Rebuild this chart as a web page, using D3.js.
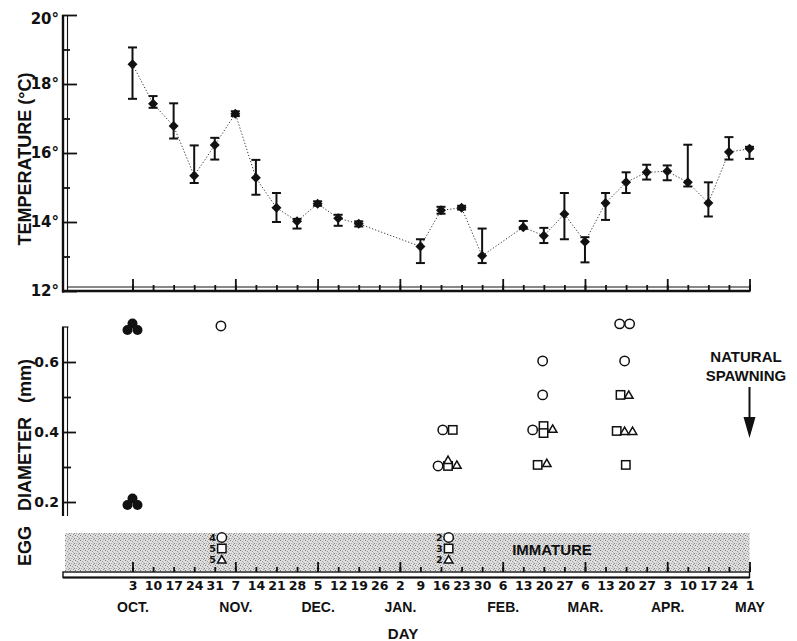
<!DOCTYPE html>
<html>
<head>
<meta charset="utf-8">
<script src="https://cdn.jsdelivr.net/npm/d3@7"></script>
<style>
  html, body { margin: 0; padding: 0; background: #fff; }
  svg { display: block; }
  text { fill: #111; }
</style>
</head>
<body>
<svg id="chart" width="797" height="641"></svg>
<script>
// ---------- DATA ----------
// x values are days since Oct 3
const weekLabels = ["3","10","17","24","31","7","14","21","28","5","12","19","26","2","9","16","23","30","6","13","20","27","6","13","20","27","3","10","17","24","1"];
const monthLabels = ["OCT.","NOV.","DEC.","JAN.","FEB.","MAR.","APR.","MAY"];
const monthStartWeek = [0,5,9,13,18,22,26,30];

const tempDays = [0,7,14,21,28,35,42,49,56,63,70,77,98,105,112,119,133,140,147,154,161,168,175,182,189,196,203,210];
const tempMean = [18.57,17.43,16.78,15.34,16.23,17.14,15.28,14.41,14.02,14.53,14.11,13.95,13.29,14.34,14.41,13.02,13.85,13.60,14.23,13.43,14.55,15.15,15.44,15.47,15.15,14.55,16.03,16.12];
const tempLow  = [17.57,17.31,16.42,15.13,15.81,17.07,14.79,14.00,13.81,14.47,13.89,13.87,12.81,14.24,14.36,12.81,13.80,13.39,13.50,12.83,14.06,14.84,15.23,15.21,15.03,14.16,15.81,15.83];
const tempHigh = [19.06,17.65,17.44,16.22,16.44,17.21,15.80,14.84,14.09,14.60,14.21,14.02,13.50,14.44,14.47,13.81,14.03,13.83,14.84,13.56,14.84,15.44,15.66,15.64,16.24,15.15,16.46,16.18];

const tempTicks = [12,14,16,18,20];
const tempMinorTicks = [13,15,17,19];
const eggTicks = [0.2,0.4,0.6];
const eggMinorTicks = [0.3,0.5];

const eggDays  = [0, 0, 30.1, 105.6,109.0, 104.0,107.4,107.4,110.4, 139.6,139.6, 136.2,139.9,139.9,143.0, 137.9,141.0, 165.8,169.2, 167.5, 166.1,168.9, 164.8,167.5,170.2, 167.9];
const eggDiam  = [0.70,0.20,0.703, 0.406,0.406, 0.303,0.303,0.32,0.306, 0.603,0.506, 0.406,0.417,0.397,0.409, 0.306,0.311, 0.709,0.709, 0.603, 0.506,0.506, 0.403,0.403,0.403, 0.306];
const eggShape = ["cluster","cluster","circle","circle","square","circle","square","triangle","triangle","circle","circle","circle","square","square","triangle","square","triangle","circle","circle","circle","square","triangle","square","triangle","triangle","square"];

const immatureDays = [30.4, 107.6];
const immatureShapes = ["circle","square","triangle"];
const immatureCounts = [[4,5,5],[2,3,2]];

// ---------- SCALES ----------
const svg = d3.select("#chart");
const x = d3.scaleLinear().domain([0,210]).range([132.5,749.5]);
const yT = d3.scaleLinear().domain([12,20]).range([291,15]);
const yE = d3.scaleLinear().domain([0.16,0.70]).range([516,327]);
const immRow = d3.scalePoint().domain(immatureShapes).range([537.5,559.5]);
const weekDays = weekLabels.map((d,i)=>i*7);
const monthDays = monthStartWeek.map(i=>i*7);

const numFont = "'DejaVu Sans', sans-serif";
const wordFont = "'Liberation Sans', Arial, sans-serif";

// ---------- TOP PANEL AXES ----------
svg.append("line").attr("x1",63).attr("x2",63).attr("y1",yT(20)).attr("y2",yT(12)+1.5).attr("stroke","#111").attr("stroke-width",2.4);
svg.append("line").attr("x1",67.5).attr("x2",67.5).attr("y1",yT(20)).attr("y2",yT(12)).attr("stroke","#111").attr("stroke-width",1.1);
svg.append("line").attr("x1",62).attr("x2",x(210)+1).attr("y1",yT(12)).attr("y2",yT(12)).attr("stroke","#111").attr("stroke-width",2.4);
svg.append("line").attr("x1",67).attr("x2",x(210)).attr("y1",yT(12)-4).attr("y2",yT(12)-4).attr("stroke","#111").attr("stroke-width",1);

function styleAxis(g){ g.select(".domain").remove(); g.selectAll(".tick line").attr("stroke","#111").attr("stroke-width",1.8); }

svg.append("g").attr("transform","translate(62,0)")
  .call(d3.axisRight(yT).tickValues(tempTicks).tickSize(15).tickFormat(""))
  .call(styleAxis);
svg.append("g").attr("transform","translate(62,0)")
  .call(d3.axisRight(yT).tickValues(tempMinorTicks).tickSize(8).tickFormat(""))
  .call(styleAxis);
svg.append("g").attr("transform","translate(60,0)")
  .call(d3.axisLeft(yT).tickValues(tempTicks).tickSize(0).tickPadding(1).tickFormat(d=>d+"°"))
  .call(g=>g.select(".domain").remove())
  .call(g=>g.selectAll("text").attr("font-family",numFont).attr("font-weight","bold").attr("font-size",15).attr("fill","#111"))
  .call(g=>g.selectAll(".tick").filter(d=>d===20).select("text").attr("dy","0.55em"));

svg.append("g").attr("transform",`translate(0,${yT(12)})`)
  .call(d3.axisBottom(x).tickValues(weekDays).tickSize(-6).tickFormat(""))
  .call(styleAxis);
svg.append("g").attr("transform",`translate(0,${yT(12)})`)
  .call(d3.axisBottom(x).tickValues(monthDays).tickSize(-12).tickFormat(""))
  .call(styleAxis);

svg.append("text").attr("transform",`translate(31,${(yT(20)+yT(12))/2+6}) rotate(-90)`)
  .attr("text-anchor","middle").attr("font-family",wordFont).attr("font-weight","bold").attr("font-size",18)
  .text("TEMPERATURE (°C)");

// ---------- TEMPERATURE DATA ----------
const tData = tempDays.map((d,i)=>({d, m:tempMean[i], lo:tempLow[i], hi:tempHigh[i]}));
svg.append("path").datum(tData)
  .attr("d", d3.line().x(p=>x(p.d)).y(p=>yT(p.m)))
  .attr("fill","none").attr("stroke","#333").attr("stroke-width",1).attr("stroke-dasharray","1.2,2");

const eb = svg.append("g").selectAll("g").data(tData).join("g");
eb.append("line").attr("x1",p=>x(p.d)).attr("x2",p=>x(p.d)).attr("y1",p=>yT(p.lo)).attr("y2",p=>yT(p.hi)).attr("stroke","#111").attr("stroke-width",2);
eb.append("line").attr("x1",p=>x(p.d)-4.5).attr("x2",p=>x(p.d)+4.5).attr("y1",p=>yT(p.lo)).attr("y2",p=>yT(p.lo)).attr("stroke","#111").attr("stroke-width",2);
eb.append("line").attr("x1",p=>x(p.d)-4.5).attr("x2",p=>x(p.d)+4.5).attr("y1",p=>yT(p.hi)).attr("y2",p=>yT(p.hi)).attr("stroke","#111").attr("stroke-width",2);
eb.append("path").attr("d", d3.symbol(d3.symbolSquare, 50)())
  .attr("transform",p=>`translate(${x(p.d)},${yT(p.m)}) rotate(45)`).attr("fill","#111");

// ---------- EGG PANEL ----------
svg.append("line").attr("x1",63).attr("x2",63).attr("y1",yE(0.70)).attr("y2",yE(0.16)).attr("stroke","#111").attr("stroke-width",2.2);
svg.append("line").attr("x1",67.5).attr("x2",67.5).attr("y1",yE(0.70)).attr("y2",yE(0.16)).attr("stroke","#111").attr("stroke-width",1.1);
svg.append("line").attr("x1",62).attr("x2",68.5).attr("y1",yE(0.70)).attr("y2",yE(0.70)).attr("stroke","#111").attr("stroke-width",1.2);
svg.append("g").attr("transform","translate(62,0)")
  .call(d3.axisRight(yE).tickValues(eggTicks).tickSize(14).tickFormat(""))
  .call(styleAxis);
svg.append("g").attr("transform","translate(62,0)")
  .call(d3.axisRight(yE).tickValues(eggMinorTicks).tickSize(9).tickFormat(""))
  .call(styleAxis);
svg.append("g").attr("transform","translate(60,0)")
  .call(d3.axisLeft(yE).tickValues(eggTicks).tickSize(0).tickPadding(1).tickFormat(d3.format(".1f")))
  .call(g=>g.select(".domain").remove())
  .call(g=>g.selectAll("text").attr("font-family",numFont).attr("font-weight","bold").attr("font-size",14).attr("fill","#111"));

[["EGG",546],["DIAMETER",464],["(mm)",381]].forEach(([t,c])=>{
  svg.append("text").attr("transform",`translate(31,${c}) rotate(-90)`)
    .attr("text-anchor","middle").attr("font-family",wordFont).attr("font-weight","bold").attr("font-size",18).text(t);
});

// immature band
const defs = svg.append("defs");
const pat = defs.append("pattern").attr("id","stipple").attr("patternUnits","userSpaceOnUse").attr("width",5).attr("height",5);
pat.append("rect").attr("width",5).attr("height",5).attr("fill","#dedede");
[[0,0,"#777"],[2,1,"#999"],[4,3,"#888"],[1,3,"#aaa"],[3,4,"#9a9a9a"],[3,2,"#bbb"]].forEach(([a,b,c])=>pat.append("rect").attr("x",a).attr("y",b).attr("width",1).attr("height",1).attr("fill",c));
svg.append("rect").attr("x",65).attr("y",533).attr("width",x(210)-65).attr("height",38).attr("fill","url(#stipple)");

const axY = 575;
svg.append("rect").attr("x",63).attr("y",axY-3).attr("width",x(210)-63).attr("height",5.5).attr("fill","#fff").attr("stroke","#111").attr("stroke-width",1.4);
svg.append("line").attr("x1",63).attr("x2",x(210)).attr("y1",axY+2.5).attr("y2",axY+2.5).attr("stroke","#111").attr("stroke-width",2);

svg.append("g").attr("transform",`translate(0,${axY-3})`)
  .call(d3.axisBottom(x).tickValues(weekDays).tickSize(-5).tickPadding(9).tickFormat((d,i)=>weekLabels[i]))
  .call(styleAxis)
  .call(g=>g.selectAll("text").attr("font-family",numFont).attr("font-weight","bold").attr("font-size",12.5).attr("fill","#111"));
svg.append("g").attr("transform",`translate(0,${axY-3})`)
  .call(d3.axisBottom(x).tickValues(monthDays).tickSize(-10).tickFormat(""))
  .call(styleAxis);
svg.append("g").attr("transform",`translate(0,${axY+27})`)
  .call(d3.axisBottom(x).tickValues(monthDays).tickSize(0).tickPadding(0).tickFormat((d,i)=>monthLabels[i]))
  .call(g=>g.select(".domain").remove())
  .call(g=>g.selectAll("text").attr("font-family",wordFont).attr("font-weight","bold").attr("font-size",14).attr("fill","#111"));

svg.append("text").attr("x",403).attr("y",639).attr("text-anchor","middle")
  .attr("font-family",wordFont).attr("font-weight","bold").attr("font-size",15).text("DAY");

// ---------- EGG MARKERS ----------
function drawShape(g, shape, cx, cy){
  if(shape==="circle"){
    g.append("circle").attr("cx",cx).attr("cy",cy).attr("r",4.7).attr("fill","#fff").attr("stroke","#111").attr("stroke-width",1.5);
  } else if(shape==="square"){
    g.append("rect").attr("x",cx-4.2).attr("y",cy-4.2).attr("width",8.4).attr("height",8.4).attr("fill","#fff").attr("stroke","#111").attr("stroke-width",1.5);
  } else if(shape==="triangle"){
    g.append("path").attr("d",d3.symbol(d3.symbolTriangle2 || d3.symbolTriangle, 52)())
      .attr("transform",`translate(${cx},${cy+1})`).attr("fill","#fff").attr("stroke","#111").attr("stroke-width",1.5);
  } else if(shape==="cluster"){
    [[0,-3.5],[-5,3],[5,3]].forEach(([dx,dy])=>
      g.append("circle").attr("cx",cx+dx).attr("cy",cy+dy).attr("r",5).attr("fill","#111"));
  }
}
const eggG = svg.append("g");
eggDays.forEach((d,i)=>drawShape(eggG, eggShape[i], x(d), yE(eggDiam[i])));

const immG = svg.append("g");
immatureDays.forEach((d,j)=>{
  immatureShapes.forEach((s,k)=>{
    drawShape(immG, s, x(d), immRow(s));
    immG.append("text").attr("x",x(d)-6).attr("y",immRow(s)+3.5).attr("text-anchor","end")
      .attr("font-family",numFont).attr("font-weight","bold").attr("font-size",9.5).text(immatureCounts[j][k]);
  });
});
svg.append("text").attr("x",552).attr("y",555).attr("text-anchor","middle")
  .attr("font-family",wordFont).attr("font-weight","bold").attr("font-size",15).text("IMMATURE");

svg.append("text").attr("x",746).attr("y",362).attr("text-anchor","middle")
  .attr("font-family",wordFont).attr("font-weight","bold").attr("font-size",15).text("NATURAL");
svg.append("text").attr("x",746).attr("y",381).attr("text-anchor","middle")
  .attr("font-family",wordFont).attr("font-weight","bold").attr("font-size",15).text("SPAWNING");
svg.append("line").attr("x1",x(210)).attr("x2",x(210)).attr("y1",387).attr("y2",422).attr("stroke","#111").attr("stroke-width",2);
svg.append("path").attr("d",d3.line()([[x(210)-6,417],[x(210)+6,417],[x(210),438]])+"Z").attr("fill","#111");
</script>
</body>
</html>
